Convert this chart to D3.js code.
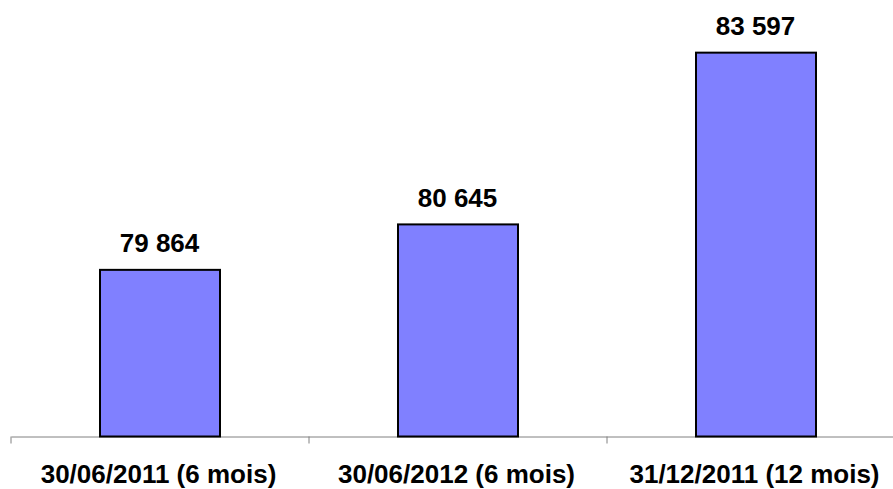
<!DOCTYPE html>
<html><head><meta charset="utf-8">
<script src="https://cdn.jsdelivr.net/npm/d3@7"></script>
<style>html,body{margin:0;padding:0;background:#fff;}svg{display:block;}</style>
</head><body>
<svg id="c" width="893" height="489"></svg>
<script>
const categories = ["30/06/2011 (6 mois)", "30/06/2012 (6 mois)", "31/12/2011 (12 mois)"];
const values = [79864, 80645, 83597];
const valueLabels = ["79 864", "80 645", "83 597"];
const yDomain = [77000, 84000];

const svg = d3.select("#c");
const font = "'Liberation Sans', Arial, sans-serif";
const x = d3.scaleBand().domain(categories).range([11, 905]).paddingInner(0).paddingOuter(0);
const y = d3.scaleLinear().domain(yDomain).range([436.5, 29.2]);
const barW = 120;

// axis
const axis = svg.append("g").attr("transform", "translate(0,436.5)")
  .call(d3.axisBottom(x).tickSize(0).tickFormat(""));
axis.select(".domain").attr("stroke", "#808080").attr("stroke-width", 1);
// boundary ticks
const bounds = [x.range()[0]].concat(categories.map(c => x(c) + x.bandwidth()));
svg.append("g").selectAll("line").data(bounds).join("line")
  .attr("x1", d => d).attr("x2", d => d)
  .attr("y1", 436.5).attr("y2", 443.5)
  .attr("stroke", "#808080").attr("stroke-width", 1);

// bars
svg.append("g").selectAll("rect").data(values).join("rect")
  .attr("x", (d, i) => x(categories[i]) + x.bandwidth() / 2 - barW / 2)
  .attr("y", d => y(d))
  .attr("width", barW)
  .attr("height", d => y(yDomain[0]) - y(d))
  .attr("fill", "#8080FF")
  .attr("stroke", "#000").attr("stroke-width", 2);

// value labels
svg.append("g").selectAll("text").data(values).join("text")
  .attr("x", (d, i) => x(categories[i]) + x.bandwidth() / 2 - 0.5)
  .attr("y", d => y(d) - 17.5)
  .attr("text-anchor", "middle")
  .attr("font-family", font).attr("font-weight", "bold").attr("font-size", 26)
  .attr("fill", "#000")
  .text((d, i) => valueLabels[i]);

// category labels
svg.append("g").selectAll("text").data(categories).join("text")
  .attr("x", d => x(d) + x.bandwidth() / 2 - 1.5)
  .attr("y", 482.5)
  .attr("text-anchor", "middle")
  .attr("font-family", font).attr("font-weight", "bold").attr("font-size", 26)
  .attr("fill", "#000")
  .text(d => d);
</script>
</body></html>
